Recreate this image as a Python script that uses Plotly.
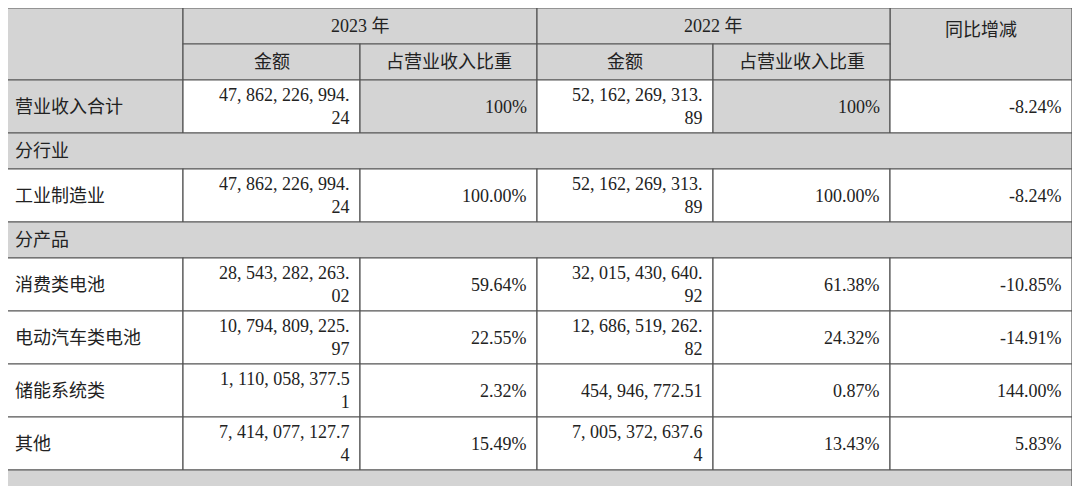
import plotly.graph_objects as go

# ------ DATA ------
years = ["2023 年", "2022 年"]
sub_headers = ["金额", "占营业收入比重"]
change_header = "同比增减"
row_labels = ["营业收入合计", "分行业", "工业制造业", "分产品", "消费类电池",
              "电动汽车类电池", "储能系统类", "其他"]
section_rows = ["分行业", "分产品"]
amount_2023 = ["47,862,226,994.24", None, "47,862,226,994.24", None, "28,543,282,263.02",
               "10,794,809,225.97", "1,110,058,377.51", "7,414,077,127.74"]
share_2023 = ["100%", None, "100.00%", None, "59.64%", "22.55%", "2.32%", "15.49%"]
amount_2022 = ["52,162,269,313.89", None, "52,162,269,313.89", None, "32,015,430,640.92",
               "12,686,519,262.82", "454,946,772.51", "7,005,372,637.64"]
share_2022 = ["100%", None, "100.00%", None, "61.38%", "24.32%", "0.87%", "13.43%"]
yoy_change = ["-8.24%", None, "-8.24%", None, "-10.85%", "-14.91%", "144.00%", "5.83%"]

# ------ GEOMETRY (pixel grid) ------
col_x = [5, 183, 360, 537, 713, 890, 1072]
header_y = [8, 44, 80]
row_h = {"data": 53, "section": 36}
GRAY = "#d4d4d4"
LINE = "#555555"
FONT = "Liberation Serif, Noto Sans CJK SC"
FS = 18
PAGE_OFFSET = 8  # browser body margin


def fmt_amount(s):
    s = s.replace(",", ", ")
    return s if len(s) <= 18 else s[:18] + "<br>" + s[18:]


fig = go.Figure()
shapes, annos = [], []


def cell(x0, x1, y0, y1, fill):
    shapes.append(dict(type="rect", x0=x0, x1=x1, y0=y0, y1=y1,
                       fillcolor=fill, line=dict(color=LINE, width=1.2), layer="below"))


def text(x, y, t, anchor="center", align="center"):
    annos.append(dict(x=x, y=y, text=t, showarrow=False, xanchor=anchor, align=align,
                      yanchor="middle", font=dict(family=FONT, size=FS, color="#222")))


# ------ HEADER ------
cell(col_x[0], col_x[1], header_y[0], header_y[2], GRAY)
cell(col_x[5], col_x[6], header_y[0], header_y[2], GRAY)
text((col_x[5] + col_x[6]) / 2, (header_y[0] + header_y[1]) / 2 + 4, change_header)
for i, yr in enumerate(years):
    a, b = col_x[1 + 2 * i], col_x[3 + 2 * i]
    cell(a, b, header_y[0], header_y[1], GRAY)
    text((a + b) / 2, (header_y[0] + header_y[1]) / 2, yr)
    for j, sh in enumerate(sub_headers):
        a2, b2 = col_x[1 + 2 * i + j], col_x[2 + 2 * i + j]
        cell(a2, b2, header_y[1], header_y[2], GRAY)
        text((a2 + b2) / 2, (header_y[1] + header_y[2]) / 2, sh)

# ------ BODY ------
y = header_y[2]
for k, lab in enumerate(row_labels):
    if lab in section_rows:
        h = row_h["section"]
        cell(col_x[0], col_x[6], y, y + h, GRAY)
        text(col_x[0] + 8, y + h / 2, lab, anchor="left")
        y += h
        continue
    h = row_h["data"]
    total = k == 0
    vals = [fmt_amount(amount_2023[k]), share_2023[k],
            fmt_amount(amount_2022[k]), share_2022[k], yoy_change[k]]
    fills = [GRAY if total else "white", "white", GRAY if total else "white",
             "white", GRAY if total else "white", "white"]
    for c in range(6):
        cell(col_x[c], col_x[c + 1], y, y + h, fills[c])
    text(col_x[0] + 8, y + h / 2, lab, anchor="left")
    for c, v in enumerate(vals):
        text(col_x[c + 2] - 8, y + h / 2, v, anchor="right", align="right")
    y += h

# trailing partial row
shapes.append(dict(type="rect", x0=col_x[0], x1=col_x[6], y0=y, y1=y + 20,
                   fillcolor=GRAY, line=dict(color=LINE, width=1.2), layer="below"))

fig.update_layout(
    width=1080 - PAGE_OFFSET, height=486 - PAGE_OFFSET,
    margin=dict(l=0, r=0, t=0, b=0),
    plot_bgcolor="white", paper_bgcolor="white",
    xaxis=dict(range=[PAGE_OFFSET, 1080], visible=False, fixedrange=True),
    yaxis=dict(range=[486, PAGE_OFFSET], visible=False, fixedrange=True),
    shapes=shapes, annotations=annos, showlegend=False,
)

fig.write_html("out.html")
